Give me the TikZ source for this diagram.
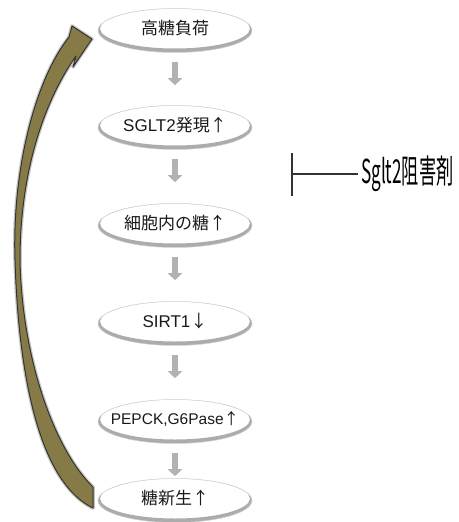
\documentclass[tikz,border=0pt]{standalone}
\usepackage{fontspec}
\usepackage{graphicx}
\setmainfont{Liberation Sans}
\newfontfamily\jp{Noto Sans CJK JP}
\usetikzlibrary{shapes.geometric,arrows.meta,calc}
\definecolor{olivebrush}{RGB}{134,122,70}
\begin{document}
\begin{tikzpicture}[x=1pt,y=-1pt,
  stage/.style={ellipse, minimum width=154pt, minimum height=44pt, inner sep=0pt, text=black!90, font=\fontsize{17}{20}\selectfont},
  swoosh/.style={fill=gray!65, even odd rule},
  rim/.style={draw=gray!35, line width=0.5pt},
  blk/.style={line width=6pt, draw=gray!60, -{Triangle[width=14pt,length=7pt]}},
  inhib/.style={draw=black!80, line width=1.5pt, -{Bar[width=43pt]}},
  brushshadow/.style={draw=gray!45, line width=3.5pt, line join=round},
  brush/.style={fill=olivebrush, draw=black!80, line width=1pt, line join=round},
]
\useasboundingbox (0,0) rectangle (458,522);

% stages
\node[stage] (n1) at (175,28) {\jp 高糖負荷};
\node[stage] (n2) at (175,125) {SGLT2{\jp 発現↑}};
\node[stage] (n3) at (175,223) {\jp 細胞内の糖↑};
\node[stage] (n4) at (175,321) {SIRT1{\jp ↓}};
\node[stage,font=\fontsize{15.5}{18}\selectfont] (n5) at (175,419) {PEPCK,G6Pase{\jp ↑}};
\node[stage] (n6) at (175,498) {\jp 糖新生↑};

% swoosh ellipses
\foreach \n in {n1,n2,n3,n4,n5,n6}{
  \fill[swoosh] ([yshift=-2.5pt]\n.center) ellipse [x radius=77pt, y radius=22pt]
                ([yshift=-0.5pt]\n.center) ellipse [x radius=75pt, y radius=20pt];
  \draw[rim] ([yshift=-2.5pt]\n.center) ellipse [x radius=77pt, y radius=22pt];
}

% block arrows between stages
\foreach \a in {n1,n2,n3,n4,n5}
  \draw[blk] ([yshift=-12pt]\a.south) -- ([yshift=-35pt]\a.south);

% curved olive feedback arrow
\def\brushpath{(93,508) -- (93,487)
  .. controls (55,450) and (22,360) .. (20,260)
  .. controls (20,170) and (45,100) .. (76,56)
  -- (73,67) -- (92,39) -- (72,26) -- (69,37)
  .. controls (35,80) and (12,170) .. (15,260)
  .. controls (18,360) and (35,480) .. (93,508) -- cycle}
\draw[brushshadow] \brushpath;
\filldraw[brush] \brushpath;

% inhibitor
\node[anchor=west, inner sep=0pt] (drug) at (361,174)
  {\jp\fontsize{33}{33}\selectfont\scalebox{0.52}[1]{Sglt2阻害剤}};
\coordinate (bar) at (291,174);
\draw[inhib] ([xshift=-3pt]drug.west) -- (bar);
\end{tikzpicture}
\end{document}
